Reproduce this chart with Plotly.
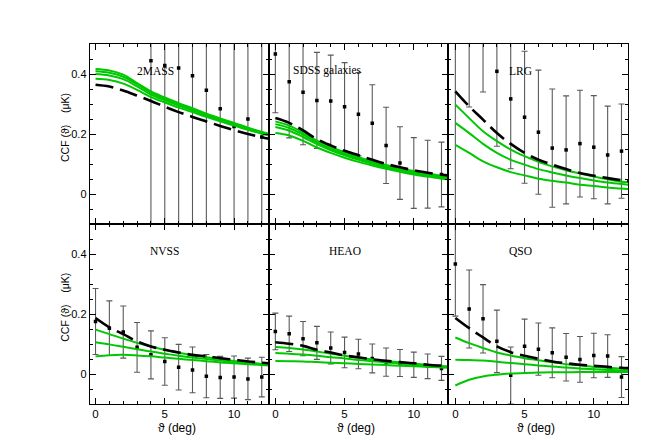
import plotly.graph_objects as go

# ---------------- data ----------------
theta_data = [0, 1, 2, 3, 4, 5, 6, 7, 8, 9, 10, 11, 12]
theta_model = [0, 1, 2, 3, 4, 5, 6, 7, 8, 9, 10, 11, 12, 12.5]

panel_names = ["2MASS", "SDSS galaxies", "LRG", "NVSS", "HEAO", "QSO"]

# measured CCF (muK) and 1-sigma errors
tmass_theta = [4, 5, 6, 7, 8, 9, 10, 11, 12]
tmass_ccf = [0.444, 0.428, 0.420, 0.394, 0.346, 0.284, 0.225, 0.250, 0.190]
tmass_err = [1.0, 1.0, 1.0, 1.0, 1.0, 1.0, 1.0, 1.0, 1.0]

sdss_ccf = [0.467, 0.374, 0.339, 0.312, 0.310, 0.291, 0.266, 0.236, 0.162, 0.103, 0.070, 0.066, 0.065]
sdss_err = [0.196, 0.187, 0.175, 0.160, 0.153, 0.147, 0.139, 0.128, 0.127, 0.121, 0.118, 0.113, 0.108]

lrg_ccf = [0.600, 0.550, 0.600, 0.409, 0.317, 0.256, 0.206, 0.153, 0.147, 0.168, 0.156, 0.130, 0.143]
lrg_err = [0.750, 0.260, 0.260, 0.250, 0.233, 0.220, 0.207, 0.197, 0.180, 0.178, 0.172, 0.163, 0.157]

nvss_ccf = [0.175, 0.153, 0.140, 0.089, 0.064, 0.042, 0.023, 0.014, -0.007, -0.011, -0.010, -0.016, -0.010]
nvss_err = [0.110, 0.091, 0.087, 0.083, 0.080, 0.079, 0.076, 0.076, 0.072, 0.070, 0.070, 0.069, 0.066]

heao_ccf = [0.142, 0.134, 0.118, 0.104, 0.087, 0.072, 0.067, 0.052, 0.040, 0.037, 0.031, 0.026, 0.019]
heao_err = [0.061, 0.059, 0.057, 0.055, 0.053, 0.051, 0.049, 0.048, 0.047, 0.045, 0.042, 0.041, 0.040]

qso_ccf = [0.367, 0.217, 0.184, 0.109, -0.004, 0.093, 0.083, 0.071, 0.056, 0.049, 0.062, 0.060, -0.010]
qso_err = [0.174, 0.130, 0.114, 0.104, 0.094, 0.090, 0.087, 0.083, 0.079, 0.076, 0.074, 0.071, 0.068]

# model curves (black dashed = reference model, green = alternatives)
tmass_black = [0.364, 0.358, 0.345, 0.328, 0.310, 0.291, 0.273, 0.257, 0.242, 0.227, 0.213, 0.200, 0.189, 0.184]
tmass_green = [
    [0.417, 0.412, 0.398, 0.370, 0.342, 0.322, 0.303, 0.286, 0.268, 0.252, 0.237, 0.221, 0.207, 0.201],
    [0.409, 0.404, 0.391, 0.366, 0.337, 0.317, 0.299, 0.282, 0.265, 0.249, 0.234, 0.219, 0.205, 0.199],
    [0.400, 0.395, 0.383, 0.359, 0.331, 0.312, 0.295, 0.278, 0.262, 0.246, 0.232, 0.217, 0.203, 0.197],
    [0.384, 0.380, 0.368, 0.347, 0.323, 0.305, 0.288, 0.273, 0.257, 0.242, 0.228, 0.214, 0.201, 0.195],
]

sdss_black = [0.253, 0.237, 0.212, 0.183, 0.162, 0.144, 0.129, 0.114, 0.100, 0.089, 0.079, 0.071, 0.064, 0.062]
sdss_green = [
    [0.242, 0.228, 0.205, 0.178, 0.157, 0.139, 0.123, 0.109, 0.097, 0.086, 0.077, 0.069, 0.061, 0.059],
    [0.233, 0.220, 0.198, 0.172, 0.151, 0.134, 0.119, 0.105, 0.093, 0.083, 0.074, 0.066, 0.058, 0.056],
    [0.223, 0.211, 0.190, 0.166, 0.146, 0.129, 0.114, 0.101, 0.089, 0.079, 0.070, 0.062, 0.055, 0.053],
    [0.203, 0.195, 0.177, 0.155, 0.137, 0.121, 0.107, 0.095, 0.084, 0.074, 0.065, 0.058, 0.051, 0.049],
]

lrg_black = [0.342, 0.292, 0.248, 0.203, 0.167, 0.137, 0.114, 0.098, 0.083, 0.070, 0.061, 0.053, 0.046, 0.043]
lrg_green = [
    [0.298, 0.253, 0.209, 0.176, 0.148, 0.126, 0.107, 0.092, 0.079, 0.068, 0.058, 0.049, 0.041, 0.039],
    [0.237, 0.203, 0.167, 0.137, 0.114, 0.098, 0.083, 0.072, 0.062, 0.053, 0.045, 0.038, 0.033, 0.031],
    [0.164, 0.137, 0.109, 0.089, 0.073, 0.062, 0.051, 0.044, 0.038, 0.031, 0.027, 0.022, 0.018, 0.017],
]

nvss_black = [0.187, 0.156, 0.133, 0.109, 0.092, 0.081, 0.072, 0.064, 0.059, 0.053, 0.048, 0.042, 0.038, 0.036]
nvss_green = [
    [0.148, 0.133, 0.118, 0.104, 0.092, 0.081, 0.071, 0.063, 0.056, 0.050, 0.044, 0.039, 0.034, 0.033],
    [0.106, 0.099, 0.091, 0.083, 0.075, 0.068, 0.061, 0.055, 0.050, 0.045, 0.040, 0.036, 0.032, 0.031],
    [0.059, 0.063, 0.064, 0.062, 0.059, 0.055, 0.051, 0.047, 0.043, 0.039, 0.036, 0.033, 0.030, 0.029],
]

heao_black = [0.106, 0.101, 0.094, 0.081, 0.072, 0.062, 0.056, 0.049, 0.044, 0.040, 0.036, 0.031, 0.028, 0.027]
heao_green = [
    [0.090, 0.087, 0.082, 0.075, 0.068, 0.061, 0.055, 0.049, 0.044, 0.039, 0.035, 0.031, 0.027, 0.026],
    [0.070, 0.068, 0.065, 0.061, 0.056, 0.052, 0.047, 0.043, 0.039, 0.035, 0.031, 0.028, 0.025, 0.024],
    [0.044, 0.043, 0.042, 0.040, 0.038, 0.036, 0.034, 0.032, 0.030, 0.028, 0.026, 0.024, 0.022, 0.021],
]

qso_black = [0.187, 0.153, 0.122, 0.092, 0.073, 0.061, 0.051, 0.042, 0.036, 0.031, 0.028, 0.024, 0.021, 0.020]
qso_green = [
    [0.122, 0.103, 0.087, 0.072, 0.062, 0.053, 0.046, 0.039, 0.033, 0.029, 0.024, 0.021, 0.018, 0.017],
    [0.048, 0.047, 0.045, 0.041, 0.037, 0.033, 0.029, 0.025, 0.022, 0.019, 0.016, 0.014, 0.012, 0.011],
    [-0.038, -0.019, -0.008, -0.002, 0.002, 0.004, 0.005, 0.006, 0.006, 0.007, 0.007, 0.007, 0.007, 0.007],
]

x_ticks = [0, 5, 10]
y_ticks = [0, 0.2, 0.4]
y_ticktext = ["0", "0.2", "0.4"]

# ---------------- figure ----------------
W, H = 654, 440
GREEN = "rgb(0,200,0)"
ERRC = "rgb(90,90,90)"

panels = [
    (tmass_theta, tmass_ccf, tmass_err, tmass_black, tmass_green),
    (theta_data, sdss_ccf, sdss_err, sdss_black, sdss_green),
    (theta_data, lrg_ccf, lrg_err, lrg_black, lrg_green),
    (theta_data, nvss_ccf, nvss_err, nvss_black, nvss_green),
    (theta_data, heao_ccf, heao_err, heao_black, heao_green),
    (theta_data, qso_ccf, qso_err, qso_black, qso_green),
]

# pixel frames
xpix = [(81.7, 260.7), (260.7, 440.0), (440.0, 620.0)]
ypix = [(36.0, 216.0), (216.0, 395.5)]
xranges = [[-0.42, 12.5], [-0.48, 12.47], [-0.53, 12.47]]
yranges = [[-0.1, 0.5], [-0.098, 0.5]]
label_x = [4.3, 3.8, 4.7, 4.95, 5.0, 4.7]

fig = go.Figure()
layout = dict(
    width=W, height=H,
    margin=dict(l=0, r=0, t=0, b=0),
    paper_bgcolor="white", plot_bgcolor="white",
    showlegend=False,
    font=dict(family="Liberation Sans, Arial, sans-serif", size=11, color="black"),
)
annotations = []

for i, (tx, ccf, err, black, greens) in enumerate(panels):
    row, col = divmod(i, 3)
    n = i + 1
    xa = "x" if n == 1 else f"x{n}"
    ya = "y" if n == 1 else f"y{n}"
    fig.add_trace(go.Scatter(
        x=tx, y=ccf, mode="markers", xaxis=xa, yaxis=ya,
        marker=dict(symbol="square", size=3.5, color="black"),
        error_y=dict(type="data", array=err, visible=True, color=ERRC, thickness=1.1, width=3),
        cliponaxis=True,
    ))
    for g in greens:
        fig.add_trace(go.Scatter(
            x=theta_model, y=g, mode="lines", xaxis=xa, yaxis=ya,
            line=dict(color=GREEN, width=2, shape="spline"),
        ))
    fig.add_trace(go.Scatter(
        x=theta_model, y=black, mode="lines", xaxis=xa, yaxis=ya,
        line=dict(color="black", width=2.6, dash="18px,7px", shape="spline"),
    ))

    x0, x1 = xpix[col]
    y0, y1 = ypix[row]
    xkey = "xaxis" if n == 1 else f"xaxis{n}"
    ykey = "yaxis" if n == 1 else f"yaxis{n}"
    layout[xkey] = dict(
        domain=[x0 / W, x1 / W], anchor=ya, range=xranges[col],
        showgrid=False, zeroline=False, showline=True, linecolor="black", linewidth=1,
        mirror="allticks", ticks="inside", ticklen=6, tickcolor="black", tickwidth=1,
        tickvals=x_ticks, showticklabels=(row == 1),
        tickfont=dict(size=11.5, family="Liberation Sans, Arial, sans-serif"),
        minor=dict(dtick=1, tick0=0, ticks="inside", ticklen=3, tickcolor="black", showgrid=False),
    )
    layout[ykey] = dict(
        domain=[1 - y1 / H, 1 - y0 / H], anchor=xa, range=yranges[row],
        showgrid=False, zeroline=False, showline=True, linecolor="black", linewidth=1,
        mirror="allticks", ticks="inside", ticklen=6, tickcolor="black", tickwidth=1,
        tickvals=y_ticks, ticktext=y_ticktext, showticklabels=(col == 0),
        tickfont=dict(size=11, family="Liberation Sans, Arial, sans-serif"),
        minor=dict(dtick=0.05, tick0=0, ticks="inside", ticklen=3, tickcolor="black", showgrid=False),
    )
    annotations.append(dict(
        x=label_x[i], y=0.41, xref=xa, yref=ya, text=panel_names[i],
        showarrow=False, xanchor="center", yanchor="middle",
        font=dict(family="Liberation Serif, Times New Roman, serif", size=11.5, color="black"),
    ))

# axis titles
for (y0, y1) in ypix:
    annotations.append(dict(
        x=57 / W, y=1 - ((y0 + y1) / 2 - 6) / H, xref="paper", yref="paper",
        text="CCF (ϑ)    (μK)", textangle=-90, showarrow=False,
        xanchor="center", yanchor="middle",
        font=dict(size=10.5, family="Liberation Sans, Arial, sans-serif"),
    ))
for (x0, x1) in xpix:
    annotations.append(dict(
        x=((x0 + x1) / 2 - 2) / W, y=1 - 420 / H, xref="paper", yref="paper",
        text="ϑ (deg)", showarrow=False, xanchor="center", yanchor="middle",
        font=dict(size=12, family="Liberation Sans, Arial, sans-serif"),
    ))

layout["annotations"] = annotations
fig.update_layout(**layout)
fig.write_html("out.html")
